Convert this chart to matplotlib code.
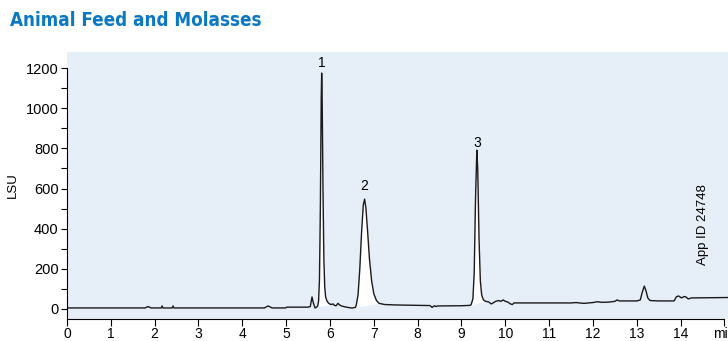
import matplotlib

matplotlib.use("Agg")

import matplotlib.pyplot as plt
import numpy as np

# chromatogram trace (minutes, LSU)
time_min = [
    0.00, 1.78, 1.85, 1.92, 2.15, 2.17, 2.19, 2.40, 2.42, 2.44,
    4.50, 4.59, 4.68, 4.98, 5.02, 5.50, 5.55, 5.59, 5.62, 5.66, 5.69,
    5.72, 5.74, 5.76, 5.78, 5.80, 5.81, 5.82, 5.84, 5.86, 5.88, 5.90,
    5.93, 5.97, 6.02, 6.07, 6.10, 6.14, 6.18, 6.22, 6.26, 6.35, 6.45,
    6.52, 6.58, 6.60, 6.64, 6.68, 6.72, 6.76, 6.79, 6.82, 6.86, 6.90,
    6.95, 7.00, 7.06, 7.12, 7.25, 7.50, 8.00, 8.28, 8.33, 8.38, 8.42,
    8.45, 9.00, 9.20, 9.22, 9.26, 9.29, 9.32, 9.35, 9.37, 9.40, 9.43,
    9.46, 9.50, 9.55, 9.62, 9.68, 9.72, 9.78, 9.85, 9.90, 9.95, 10.00,
    10.05, 10.12, 10.16, 10.20, 11.50, 11.62, 11.68, 11.80, 12.00,
    12.10, 12.20, 12.35, 12.50, 12.55, 12.60, 13.00, 13.08, 13.12,
    13.17, 13.21, 13.25, 13.30, 13.50, 13.85, 13.90, 13.95, 14.02,
    14.08, 14.12, 14.17, 14.25, 15.08,
]
lsu = [
    5, 5, 12, 5, 5, 15, 5, 5, 15, 5,
    5, 15, 5, 5, 9, 9, 12, 60, 30, 5, 8,
    15, 40, 150, 500, 1050, 1175, 1080, 600, 250, 110, 60,
    40, 28, 22, 25, 18, 16, 28, 20, 15, 10, 6,
    5, 8, 20, 70, 200, 380, 520, 547, 500, 380, 250,
    140, 75, 42, 28, 22, 20, 18, 17, 8, 16, 12,
    15, 16, 18, 22, 50, 180, 550, 791, 700, 350, 140,
    70, 45, 38, 35, 25, 30, 38, 42, 38, 45, 38,
    35, 25, 22, 30, 30, 32, 30, 28, 32,
    36, 33, 34, 38, 45, 40, 40, 45, 80,
    114, 90, 55, 42, 40, 40, 60, 65, 55,
    62, 60, 50, 55, 57,
]

# integrated peaks: label, start, end (min), apex, label height
peak_labels = ["1", "2", "3"]
peak_start = [5.70, 6.58, 9.22]
peak_end = [6.02, 7.12, 9.55]
peak_apex = [5.81, 6.79, 9.35]
label_lsu = [1224, 612, 826]

x_ticks = list(range(0, 16))
x_tick_labels = [str(i) for i in range(0, 15)] + ["min"]
y_ticks = list(range(0, 1201, 200))

plt.rcParams["font.family"] = ["Liberation Sans", "DejaVu Sans"]

fig = plt.figure(figsize=(7.28, 3.41), dpi=100)
ax = fig.add_axes([67 / 728, 22 / 341, 661 / 728, 267 / 341])
ax.set_facecolor("#e6eef8")

t = np.array(time_min)
v = np.array(lsu)

for s, e in zip(peak_start, peak_end):
    m = (t >= s) & (t <= e)
    vs = np.interp(s, t, v)
    ve = np.interp(e, t, v)
    base = vs + (t[m] - s) * (ve - vs) / (e - s)
    ax.fill_between(t[m], base, v[m], color="white", lw=0)

ax.plot(t, v, color="#1a1a1a", lw=1.0)

for lab, x, y in zip(peak_labels, peak_apex, label_lsu):
    ax.text(x, y, lab, ha="center", va="center", fontsize=10)

ax.text(14.52, 418, "App ID 24748", rotation=90, ha="center", va="center", fontsize=9.5)

ax.set_xlim(0, 15.08)
ax.set_ylim(-50, 1280)
ax.set_xticks(x_ticks)
ax.set_xticklabels(x_tick_labels, fontsize=10)
ax.set_yticks(y_ticks)
ax.set_yticks(range(100, 1200, 200), minor=True)
ax.tick_params(axis="y", labelsize=10.5, length=4, width=0.8, pad=2)
ax.tick_params(axis="y", which="minor", length=4, width=0.8)
ax.tick_params(axis="x", length=5, width=0.8, pad=0.5)
for side in ("top", "right"):
    ax.spines[side].set_visible(False)
ax.spines["left"].set_bounds(-50, 1200)
ax.spines["bottom"].set_bounds(0, 15)
ax.set_ylabel("LSU", fontsize=9.5, labelpad=5)

fig.text(10 / 728, 1 - 20 / 341, "Animal Feed and Molasses", fontsize=13.5,
         fontweight="bold", fontstretch="condensed", color="#0a78c4", va="center",
         family=["DejaVu Sans"])

fig.savefig("out.png", dpi=100)
